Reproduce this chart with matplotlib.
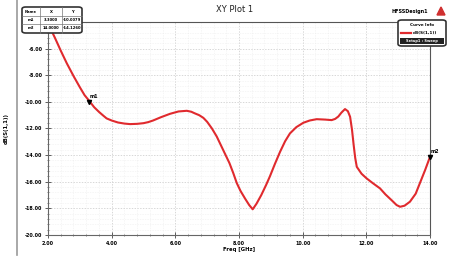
#!/usr/bin/env python
import matplotlib
matplotlib.use("Agg")
import matplotlib.pyplot as plt
from matplotlib.patches import FancyBboxPatch, Rectangle
from matplotlib.lines import Line2D
from matplotlib.ticker import MultipleLocator

# S11 curve
freq = [2.0, 2.1, 2.22, 2.4, 2.59, 2.8, 3.0, 3.15, 3.32, 3.45, 3.6, 3.72,
        3.84, 4.0, 4.2, 4.4, 4.58, 4.8, 5.0, 5.15, 5.3, 5.55, 5.83, 6.1,
        6.36, 6.5, 6.6, 6.75, 6.88, 7.0, 7.15, 7.3, 7.4, 7.55, 7.7, 7.82,
        7.93, 8.05, 8.2, 8.32, 8.43, 8.55, 8.7, 8.85, 8.97, 9.13, 9.29, 9.45,
        9.6, 9.8, 10.02, 10.22, 10.44, 10.7, 10.91, 11.02, 11.12, 11.22,
        11.33, 11.42, 11.49, 11.55, 11.6, 11.65, 11.7, 11.85, 12.01, 12.2,
        12.43, 12.6, 12.8, 12.95, 13.06, 13.2, 13.37, 13.55, 13.7, 13.85, 14.0]
s11 = [-4.0, -4.6, -5.2, -6.15, -7.1, -8.05, -8.9, -9.5, -10.0, -10.4,
       -10.75, -11.0, -11.24, -11.4, -11.55, -11.63, -11.67, -11.65, -11.6,
       -11.52, -11.4, -11.15, -10.9, -10.72, -10.67, -10.74, -10.85, -11.0,
       -11.2, -11.5, -12.0, -12.6, -13.1, -13.85, -14.6, -15.35, -16.1,
       -16.7, -17.3, -17.75, -18.07, -17.65, -17.0, -16.25, -15.6, -14.65,
       -13.75, -12.95, -12.37, -11.9, -11.57, -11.4, -11.3, -11.33, -11.37,
       -11.28, -11.1, -10.8, -10.54, -10.7, -11.12, -12.1, -13.2, -14.2,
       -14.88, -15.4, -15.75, -16.1, -16.5, -16.95, -17.4, -17.75, -17.88,
       -17.8, -17.5, -16.9, -16.0, -15.1, -14.13]

marker_names = ["m1", "m2"]
marker_x = [3.3, 14.0]
marker_y = [-10.0, -14.13]
marker_text_x = ["3.3000", "14.0000"]
marker_text_y = ["-10.0079", "-14.1260"]

xticks = [2, 4, 6, 8, 10, 12, 14]
yticks = [-20, -18, -16, -14, -12, -10, -8, -6]

W, H = 458, 263
fig = plt.figure(figsize=(W / 100, H / 100), dpi=100)
fig.patch.set_facecolor("white")

ax = fig.add_axes([48 / W, 1 - 235 / H, (430 - 48) / W, (235 - 22) / H])
ax.plot(freq, s11, color="#e02a2e", lw=1.5, solid_capstyle="round",
        solid_joinstyle="round")
ax.set_xlim(2, 14)
ax.set_ylim(-20, -4)
ax.set_xticks(xticks)
ax.set_xticklabels(["%.2f" % v for v in xticks])
ax.set_yticks(yticks)
ax.set_yticklabels(["%.2f" % v for v in yticks])
ax.xaxis.set_minor_locator(MultipleLocator(0.4))
ax.yaxis.set_minor_locator(MultipleLocator(0.4))
ax.tick_params(which="major", direction="inout", length=4, width=0.6,
               labelsize=3.5, pad=2, colors="#444444", labelcolor="black")
ax.tick_params(which="minor", direction="inout", length=2, width=0.5,
               colors="#555555")
for lab in ax.get_xticklabels() + ax.get_yticklabels():
    lab.set_fontweight("bold")
ax.grid(which="major", color="#c8c8c8", lw=0.5, ls=(0, (2, 2)))
ax.grid(which="minor", color="#e4e4e4", lw=0.4, ls=(0, (1, 2)))
for side in ["top", "right"]:
    ax.spines[side].set_color("#555555")
    ax.spines[side].set_linewidth(0.8)
for side in ["left", "bottom"]:
    ax.spines[side].set_color("#666666")
    ax.spines[side].set_linewidth(0.8)

ax.set_xlabel("Freq [GHz]", fontsize=3.8, fontweight="bold", labelpad=1)
ax.set_ylabel("dB(S(1,1))", fontsize=3.8, fontweight="bold", labelpad=12)

# markers
for n, mx, my in zip(marker_names, marker_x, marker_y):
    ax.plot(mx, my, marker="v", color="black", ms=3, clip_on=False, zorder=5)
    ax.annotate(n, (mx, my), xytext=(0.5, 3), textcoords="offset points",
                fontsize=3.5, fontweight="bold", annotation_clip=False)

# titles
fig.text(235 / W, 1 - 10 / H, "XY Plot 1", fontsize=6, ha="center",
         va="center", color="#222222")
fig.text(428 / W, 1 - 12 / H, "HFSSDesign1", fontsize=3.5, ha="right",
         va="center", fontweight="bold")
fig.patches.append(plt.Polygon([[437 / W, 1 - 15 / H], [445 / W, 1 - 15 / H],
                                [441 / W, 1 - 7 / H]], closed=True,
                               color="#d03030", transform=fig.transFigure))

# left frame line
fig.add_artist(Line2D([17 / W, 17 / W], [1 - 255 / H, 1.0], color="#999999",
                      lw=1.2, transform=fig.transFigure))

# marker table
tx0, ty0, tw, th = 22, 7, 60, 26
fig.patches.append(FancyBboxPatch((tx0 / W, 1 - (ty0 + th) / H), tw / W, th / H,
                                  boxstyle="round,pad=0,rounding_size=0.008",
                                  fc="white", ec="#333333", lw=1.2,
                                  transform=fig.transFigure, zorder=6))
cols = [(tx0 + 9), (tx0 + 29), (tx0 + 50)]
rows = [ty0 + 5, ty0 + 13, ty0 + 21]
header = ["Name", "X", "Y"]
for c, t in zip(cols, header):
    fig.text(c / W, 1 - rows[0] / H, t, fontsize=2.7, ha="center", va="center",
             fontweight="bold", zorder=7)
for r, n, xt, yt in zip(rows[1:], marker_names, marker_text_x, marker_text_y):
    for c, t in zip(cols, [n, xt, yt]):
        fig.text(c / W, 1 - r / H, t, fontsize=2.7, ha="center", va="center",
                 fontweight="bold", zorder=7)
for c in [tx0 + 18, tx0 + 40]:
    fig.add_artist(Line2D([c / W, c / W], [1 - (ty0 + th) / H, 1 - ty0 / H],
                          color="#777777", lw=0.5, transform=fig.transFigure,
                          zorder=7))
for r in [ty0 + 9, ty0 + 17]:
    fig.add_artist(Line2D([tx0 / W, (tx0 + tw) / W], [1 - r / H, 1 - r / H],
                          color="#777777", lw=0.5, transform=fig.transFigure,
                          zorder=7))

# curve info legend
lx0, ly0, lw_, lh = 398, 20, 48, 26
fig.patches.append(FancyBboxPatch((lx0 / W, 1 - (ly0 + lh) / H), lw_ / W, lh / H,
                                  boxstyle="round,pad=0,rounding_size=0.008",
                                  fc="white", ec="#333333", lw=1.2,
                                  transform=fig.transFigure, zorder=6))
fig.text((lx0 + lw_ / 2) / W, 1 - (ly0 + 5) / H, "Curve Info", fontsize=3,
         ha="center", va="center", fontweight="bold", zorder=7)
fig.add_artist(Line2D([(lx0 + 3) / W, (lx0 + 13) / W],
                      [1 - (ly0 + 13) / H, 1 - (ly0 + 13) / H],
                      color="#e02a2e", lw=1.6, transform=fig.transFigure,
                      zorder=7))
fig.text((lx0 + 15) / W, 1 - (ly0 + 13) / H, "dB(S(1,1))", fontsize=3,
         ha="left", va="center", fontweight="bold", zorder=7)
fig.patches.append(Rectangle(((lx0 + 2) / W, 1 - (ly0 + 24) / H), (lw_ - 4) / W,
                             6 / H, fc="#222222", ec="none",
                             transform=fig.transFigure, zorder=7))
fig.text((lx0 + lw_ / 2) / W, 1 - (ly0 + 21) / H, "Setup1 : Sweep",
         fontsize=2.6, ha="center", va="center", color="white",
         fontweight="bold", zorder=8)

fig.savefig("out.png", dpi=100)
